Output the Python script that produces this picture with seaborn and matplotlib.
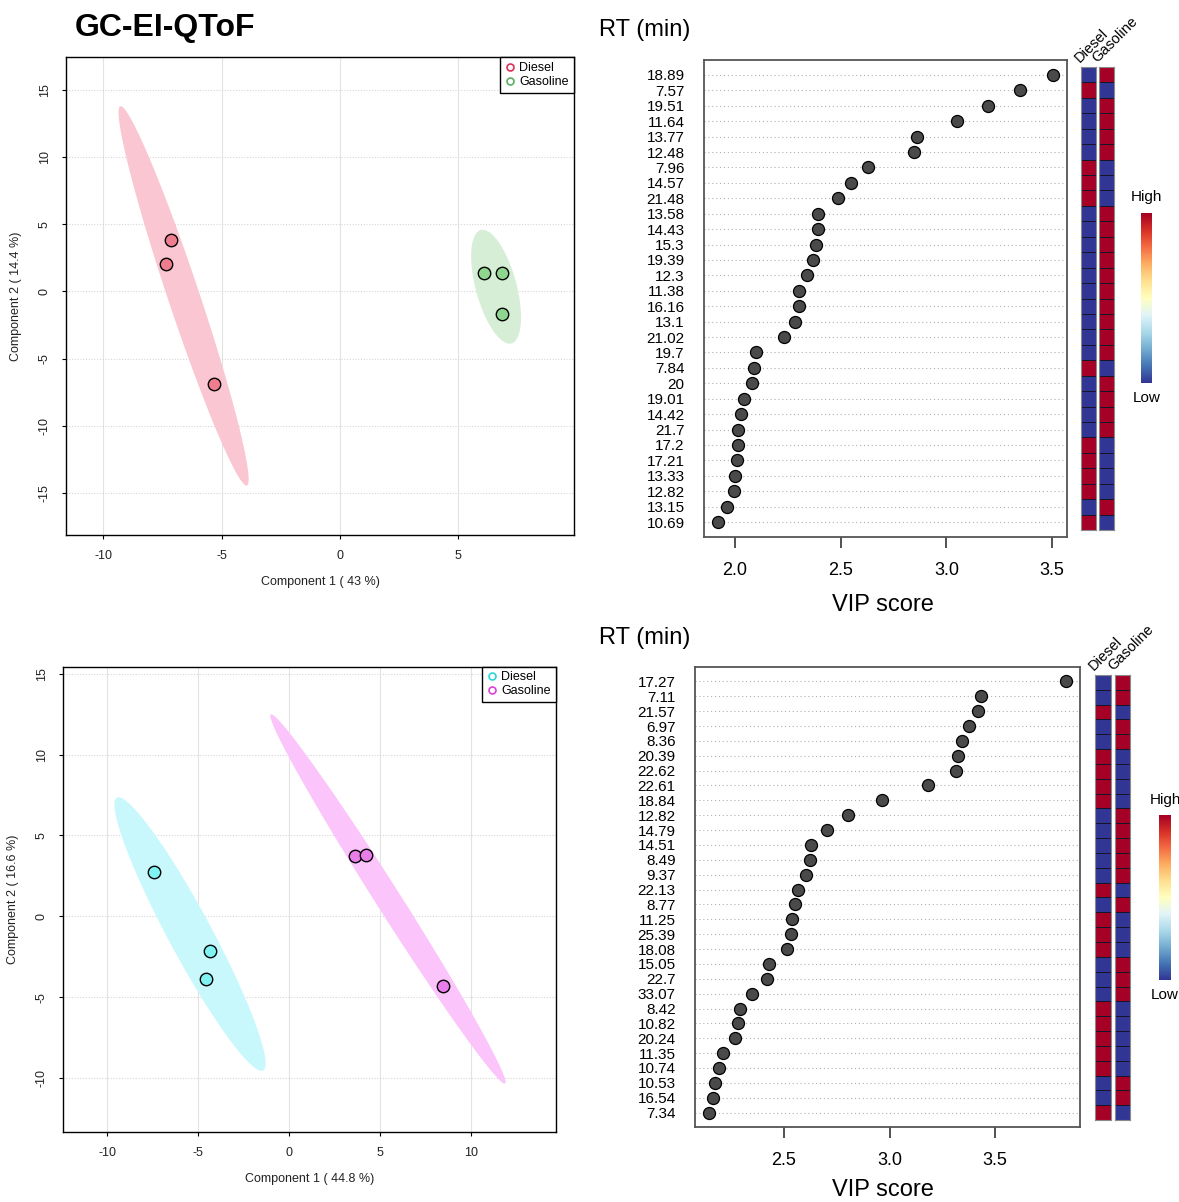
import numpy as np
import matplotlib
matplotlib.use("Agg")
import matplotlib.pyplot as plt
import seaborn as sns
from matplotlib.lines import Line2D

# ---- data ----
groups = ["Diesel", "Gasoline"]

# GC-EI-QToF scores (top)
top_diesel_c1 = [-7.14, -7.37, -5.32]
top_diesel_c2 = [3.85, 2.05, -6.91]
top_gas_c1 = [6.10, 6.83, 6.86]
top_gas_c2 = [1.36, 1.33, -1.65]

# scores (bottom)
bot_diesel_c1 = [-7.41, -4.35, -4.60]
bot_diesel_c2 = [2.76, -2.15, -3.91]
bot_gas_c1 = [3.62, 4.22, 8.47]
bot_gas_c2 = [3.71, 3.82, -4.32]

top_rt = ["18.89", "7.57", "19.51", "11.64", "13.77", "12.48", "7.96", "14.57",
          "21.48", "13.58", "14.43", "15.3", "19.39", "12.3", "11.38", "16.16",
          "13.1", "21.02", "19.7", "7.84", "20", "19.01", "14.42", "21.7",
          "17.2", "17.21", "13.33", "12.82", "13.15", "10.69"]
top_vip = [3.504, 3.347, 3.196, 3.052, 2.860, 2.847, 2.628, 2.548, 2.487, 2.390,
           2.390, 2.385, 2.368, 2.341, 2.304, 2.300, 2.283, 2.232, 2.099, 2.091,
           2.079, 2.044, 2.030, 2.016, 2.013, 2.009, 2.001, 1.997, 1.964, 1.918]
# 1 = high, 0 = low
top_heat_diesel = [0, 1, 0, 0, 0, 0, 1, 1, 1, 0, 0, 0, 0, 0, 0,
                   0, 0, 0, 0, 1, 0, 0, 0, 0, 1, 1, 1, 1, 0, 1]
top_heat_gas = [1, 0, 1, 1, 1, 1, 0, 0, 0, 1, 1, 1, 1, 1, 1,
                1, 1, 1, 1, 0, 1, 1, 1, 1, 0, 0, 0, 0, 1, 0]

bot_rt = ["17.27", "7.11", "21.57", "6.97", "8.36", "20.39", "22.62", "22.61",
          "18.84", "12.82", "14.79", "14.51", "8.49", "9.37", "22.13", "8.77",
          "11.25", "25.39", "18.08", "15.05", "22.7", "33.07", "8.42", "10.82",
          "20.24", "11.35", "10.74", "10.53", "16.54", "7.34"]
bot_vip = [3.836, 3.435, 3.419, 3.375, 3.345, 3.323, 3.313, 3.182, 2.965, 2.801,
           2.706, 2.630, 2.621, 2.603, 2.568, 2.552, 2.540, 2.533, 2.514, 2.427,
           2.421, 2.348, 2.291, 2.284, 2.267, 2.212, 2.190, 2.172, 2.162, 2.146]
bot_heat_diesel = [0, 0, 1, 0, 0, 1, 1, 1, 1, 0, 0, 0, 0, 0, 1,
                   0, 1, 1, 1, 0, 0, 0, 1, 1, 1, 1, 1, 0, 0, 1]
bot_heat_gas = [1, 1, 0, 1, 1, 0, 0, 0, 0, 1, 1, 1, 1, 1, 0,
                1, 0, 0, 0, 1, 1, 1, 0, 0, 0, 0, 0, 1, 1, 0]

# ---- figure ----
W, H = 1179, 1202
sns.set_style("white")
plt.rcParams["font.family"] = ["Liberation Sans", "DejaVu Sans"]
plt.rcParams["axes.unicode_minus"] = False
plt.rcParams["text.color"] = "black"
plt.rcParams["axes.labelcolor"] = "black"
plt.rcParams["xtick.color"] = "black"
plt.rcParams["ytick.color"] = "black"

fig = plt.figure(figsize=(W / 100, H / 100), dpi=100)


def rect(l, t, r, b):
    return [l / W, 1 - b / H, (r - l) / W, (b - t) / H]


def ellipse95(x, y):
    x = np.asarray(x); y = np.asarray(y)
    cov = np.cov(x, y)
    vals, vecs = np.linalg.eigh(cov)
    k = np.sqrt(-2 * np.log(0.05))
    t = np.linspace(0, 2 * np.pi, 200)
    circ = np.vstack([np.cos(t), np.sin(t)])
    pts = vecs @ (np.sqrt(vals)[:, None] * circ) * k
    return pts[0] + x.mean(), pts[1] + y.mean()


def pca_panel(ax, data, pt_cols, ell_cols, leg_cols, xlim, ylim, xticks, yticks, xlab, ylab):
    for v in xticks:
        ax.axvline(v, color="#e3e3e3", lw=0.8, zorder=0)
    for h in yticks:
        ax.axhline(h, color="#d6d6d6", lw=0.8, ls=(0, (1, 1.5)), zorder=0)
    for (xs, ys), ec in zip(data, ell_cols):
        ex, ey = ellipse95(xs, ys)
        ax.fill(ex, ey, color=ec, lw=0, zorder=1)
    for (xs, ys), pc in zip(data, pt_cols):
        sns.scatterplot(x=xs, y=ys, color=pc, edgecolor="black", s=80, linewidth=1,
                        ax=ax, zorder=3, legend=False)
    ax.set_xlim(*xlim)
    ax.set_ylim(*ylim)
    ax.set_xticks(xticks)
    ax.set_yticks(yticks)
    ax.tick_params(axis="both", labelsize=9, length=3, pad=8, direction="out",
                   bottom=True, left=True, color="black", labelcolor="#222222")
    for lab in ax.get_yticklabels():
        lab.set_rotation(90)
        lab.set_va("center")
    ax.set_xlabel(xlab, fontsize=9, labelpad=10, color="#222222")
    ax.set_ylabel(ylab, fontsize=9, labelpad=12, color="#222222")
    for s in ax.spines.values():
        s.set_color("black")
        s.set_linewidth(1)
    handles = [Line2D([], [], marker="o", ls="", markerfacecolor="none",
                      markeredgecolor=c, markersize=5, markeredgewidth=1.2) for c in leg_cols]
    leg = ax.legend(handles, groups, loc="upper right", fontsize=9, frameon=True,
                    fancybox=False, edgecolor="black", framealpha=1, borderaxespad=0,
                    handlelength=0.8, handletextpad=0.4, borderpad=0.4, labelspacing=0.15)
    leg.get_frame().set_linewidth(1)


def vip_panel(ax, rts, vips, xlim, xticks):
    n = len(rts)
    pos = np.arange(n)
    ax.hlines(pos, xlim[0], xlim[1], color="#b0b0b0", lw=0.8,
              linestyles=(0, (1, 2.5)), zorder=1)
    sns.scatterplot(x=vips, y=pos, color="#4a4a4a", edgecolor="black", s=75,
                    linewidth=0.9, ax=ax, zorder=3, legend=False)
    ax.set_xlim(*xlim)
    ax.set_ylim(n - 1 + 0.97, -0.97)
    ax.set_yticks(pos)
    ax.set_yticklabels(rts, fontsize=11)
    ax.set_xticks(xticks)
    ax.set_xticklabels([f"{v:.1f}" for v in xticks], fontsize=13)
    ax.tick_params(axis="y", length=0, pad=14)
    ax.tick_params(axis="x", length=8, width=1.2, pad=10, direction="out",
                   bottom=True, color="#333333")
    for s in ax.spines.values():
        s.set_color("#555555")
        s.set_linewidth(1.3)


def heat_panel(diesel, gas, r_d, r_g, r_cb):
    axd = fig.add_axes(rect(*r_d))
    axg = fig.add_axes(rect(*r_g))
    cax = fig.add_axes(rect(*r_cb))
    kw = dict(cmap="RdYlBu_r", vmin=0, vmax=1, linewidths=0.7, linecolor="#15152a",
              xticklabels=False, yticklabels=False)
    sns.heatmap(np.array(diesel).reshape(-1, 1), ax=axd, cbar=False, **kw)
    sns.heatmap(np.array(gas).reshape(-1, 1), ax=axg, cbar=True, cbar_ax=cax, **kw)
    for a, name in ((axd, "Diesel"), (axg, "Gasoline")):
        for s in a.spines.values():
            s.set_visible(True)
            s.set_color("#8a8a8a")
            s.set_linewidth(0.8)
        a.text(0.05, 1.005, name, transform=a.transAxes, rotation=45, ha="left",
               va="bottom", rotation_mode="anchor", fontsize=10.5)
    cbar = axg.collections[0].colorbar
    cbar.outline.set_visible(False)
    cbar.set_ticks([])
    cax.text(0.5, 1.05, "High", transform=cax.transAxes, ha="center", va="bottom",
             fontsize=11)
    cax.text(0.5, -0.05, "Low", transform=cax.transAxes, ha="center", va="top",
             fontsize=11)


# top row
ax1 = fig.add_axes(rect(66, 57, 574, 535))
pca_panel(ax1, [(top_diesel_c1, top_diesel_c2), (top_gas_c1, top_gas_c2)],
          ["#ee7d8e", "#8fd48f"], ["#f9c6d2", "#d6eed6"], ["#df2e55", "#5aae61"],
          (-11.58, 9.89), (-18.12, 17.43), [-10, -5, 0, 5], [-15, -10, -5, 0, 5, 10, 15],
          "Component 1 ( 43 %)", "Component 2 ( 14.4 %)")

ax2 = fig.add_axes(rect(704, 60, 1067, 537))
vip_panel(ax2, top_rt, top_vip, (1.853, 3.570), [2.0, 2.5, 3.0, 3.5])
heat_panel(top_heat_diesel, top_heat_gas, (1081, 67, 1096, 530), (1099, 67, 1114, 530),
           (1141, 213, 1152, 383))

# bottom row
ax3 = fig.add_axes(rect(63, 666.5, 556, 1131.6))
pca_panel(ax3, [(bot_diesel_c1, bot_diesel_c2), (bot_gas_c1, bot_gas_c2)],
          ["#7ff2f2", "#e97de9"], ["#c8f8fc", "#fbc4fb"], ["#2dd6d6", "#dd3fdd"],
          (-12.44, 14.68), (-13.32, 15.45), [-10, -5, 0, 5, 10], [-10, -5, 0, 5, 10, 15],
          "Component 1 ( 44.8 %)", "Component 2 ( 16.6 %)")

ax4 = fig.add_axes(rect(695, 667, 1080, 1127))
vip_panel(ax4, bot_rt, bot_vip, (2.078, 3.903), [2.5, 3.0, 3.5])
heat_panel(bot_heat_diesel, bot_heat_gas, (1095, 675, 1111, 1120), (1115, 675, 1130, 1120),
           (1159, 815, 1171, 980))

# figure texts
fig.text(75 / W, 1 - 28 / H, "GC-EI-QToF", fontsize=23, weight="bold", ha="left", va="center")
fig.text(645 / W, 1 - 30 / H, "RT (min)", fontsize=17, ha="center", va="center")
fig.text(645 / W, 1 - 638 / H, "RT (min)", fontsize=17, ha="center", va="center")
fig.text(883 / W, 1 - 605 / H, "VIP score", fontsize=17, ha="center", va="center")
fig.text(883 / W, 1 - 1190 / H, "VIP score", fontsize=17, ha="center", va="center")

fig.savefig("out.png", dpi=100)
